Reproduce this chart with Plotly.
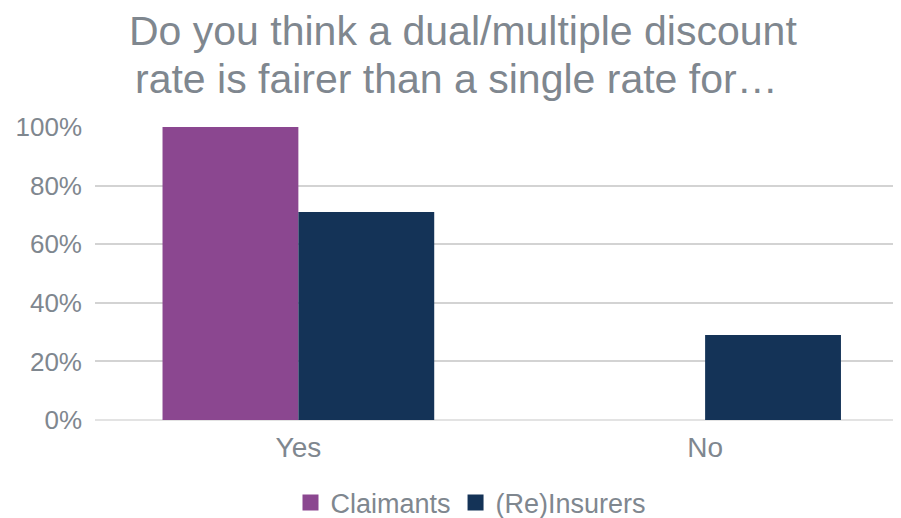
import plotly.graph_objects as go

categories = ["Yes", "No"]
claimants = [100, 0]
reinsurers = [71, 29]
series_names = ["Claimants", "(Re)Insurers"]
series_colors = ["#8b4790", "#143357"]
title_lines = ["Do you think a dual/multiple discount",
               "rate is fairer than a single rate for…"]

TEXT = "#7f878f"
FONT = "Liberation Sans, Arial, sans-serif"

fig = go.Figure()
for name, vals, col in zip(series_names, [claimants, reinsurers], series_colors):
    fig.add_trace(go.Bar(name=name, x=categories, y=vals, showlegend=False,
                         marker=dict(color=col, line=dict(width=0))))
# legend entries with larger square swatches
for name, col in zip(series_names, series_colors):
    fig.add_trace(go.Scatter(name=name, x=[None], y=[None], mode="markers",
                             marker=dict(symbol="square", size=16, color=col),
                             showlegend=True))

# The page body adds an 8px offset; the figure is sized/margined to compensate.
fig.update_layout(
    width=893, height=510,
    margin=dict(l=87, r=0, t=119, b=98, autoexpand=False),
    paper_bgcolor="white", plot_bgcolor="white",
    barmode="group", bargap=0.332, bargroupgap=0,
    font=dict(family=FONT, color=TEXT, size=26),
    legend=dict(orientation="h", x=0.4665, xanchor="center", y=-0.283, yanchor="middle",
                font=dict(size=27, color=TEXT), itemsizing="trace", traceorder="normal",
                itemwidth=30),
    xaxis=dict(range=[-0.5, 1.4816], showgrid=False, showline=False, ticks="",
               ticklabelstandoff=8, tickfont=dict(size=28, color=TEXT)),
    yaxis=dict(range=[0, 100], dtick=20, ticksuffix="%", showgrid=True,
               gridcolor="#d3d3d3", gridwidth=2, zeroline=True, zerolinecolor="#e3e3e3",
               zerolinewidth=2, showline=False, ticks="", ticklabelstandoff=12,
               tickfont=dict(size=26, color=TEXT)),
)
for line, xc, yc in zip(title_lines, [0.456, 0.448], [1.329, 1.163]):
    fig.add_annotation(text=line, xref="paper", yref="paper",
                       x=xc, y=yc, xanchor="center", yanchor="middle",
                       showarrow=False, align="center", borderpad=0,
                       font=dict(size=41, color=TEXT, family=FONT))

fig.write_html("out.html")
